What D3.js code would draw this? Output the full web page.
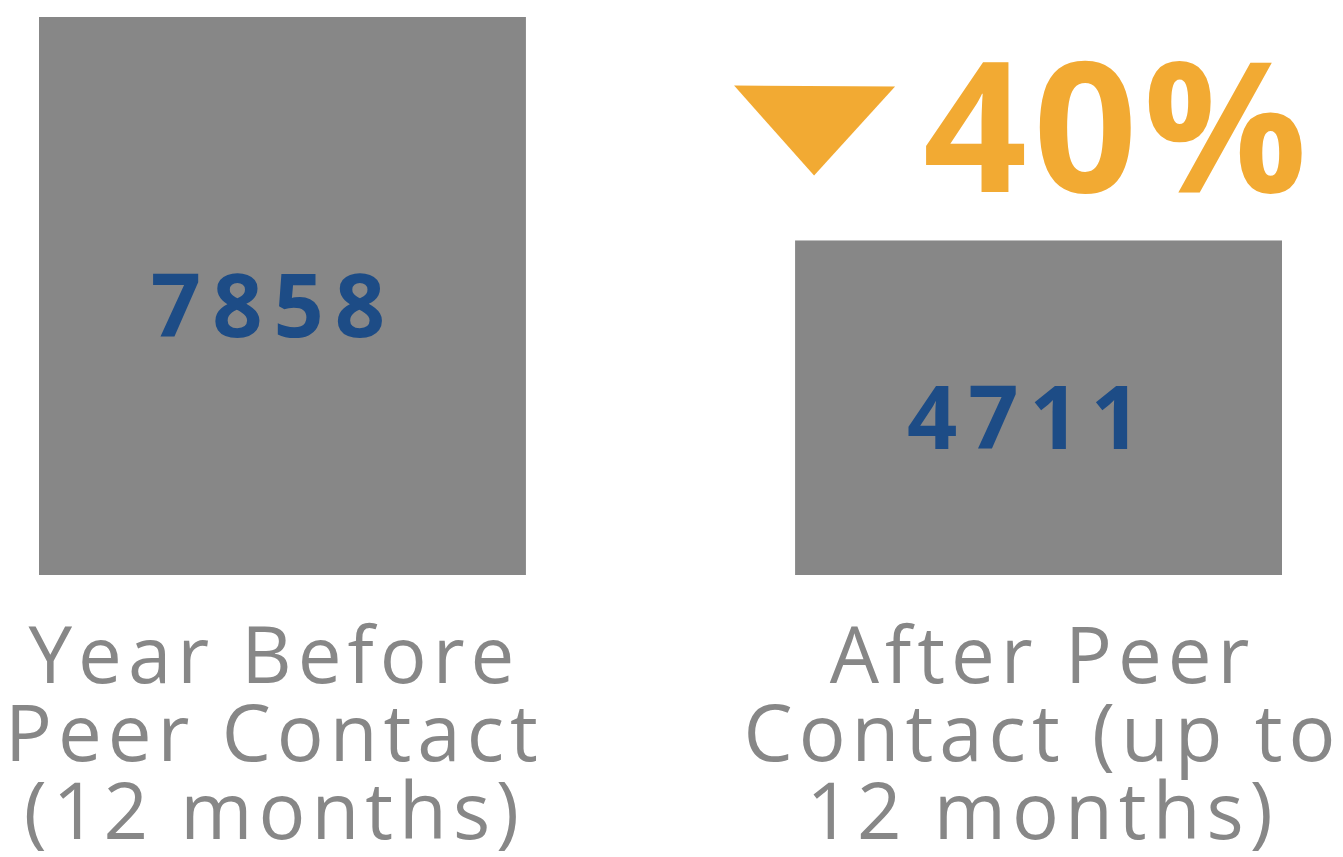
<!DOCTYPE html>
<html>
<head>
<meta charset="utf-8">
<script src="https://cdn.jsdelivr.net/npm/d3@7"></script>
<style>
  body { margin: 0; background: #fff; }
  text { font-family: "Open Sans", sans-serif; }
</style>
</head>
<body>
<div id="chart"></div>
<script>
// data
var categories = ["Year Before Peer Contact (12 months)", "After Peer Contact (up to 12 months)"];
var labelLines = [["Year Before", "Peer Contact", "(12 months)"], ["After Peer", "Contact (up to", "12 months)"]];
var values = [7858, 4711];

var W = 1343, H = 857;
var barColor = "#878787", valueColor = "#1d4c86", accent = "#f2aa33";

var svg = d3.select("#chart").append("svg")
  .attr("width", W)
  .attr("height", H);

var x = d3.scaleBand()
  .domain(categories)
  .range([39, 1282])
  .paddingInner(0.356)
  .paddingOuter(0);

var y = d3.scaleLinear()
  .domain([0, d3.max(values)])
  .range([575, 17]);

var data = categories.map(function(c, i) { return {cat: c, value: values[i], lines: labelLines[i], shift: i == 0 ? -11 : 1}; });

// bars
svg.selectAll(".bar")
  .data(data)
  .enter().append("rect")
  .attr("class", "bar")
  .attr("x", d => x(d.cat))
  .attr("y", d => y(d.value))
  .attr("width", x.bandwidth())
  .attr("height", d => y(0) - y(d.value))
  .attr("fill", barColor);

// values inside bars
svg.selectAll(".val")
  .data(data)
  .enter().append("text")
  .attr("class", "val")
  .attr("x", d => x(d.cat) + x.bandwidth() / 2 - 9)
  .attr("y", d => (y(d.value) + y(0)) / 2 + 41)
  .attr("text-anchor", "middle")
  .style("font-size", "88px")
  .style("font-weight", 700)
  .style("letter-spacing", "11px")
  .style("fill", valueColor)
  .text(d => d.value);

// category labels, three lines each
var labels = svg.selectAll(".lab")
  .data(data)
  .enter().append("text")
  .attr("class", "lab")
  .attr("text-anchor", "middle")
  .style("font-size", "78px")
  .style("letter-spacing", "6px")
  .style("fill", barColor);

labels.selectAll("tspan")
  .data(d => d.lines.map(l => ({l: l, cx: x(d.cat) + x.bandwidth() / 2 + d.shift})))
  .enter().append("tspan")
  .attr("x", d => d.cx + 3)
  .attr("y", (d, i) => 683 + i * 78)
  .text(d => d.l);

// change annotation above the second bar
var drop = Math.round((values[0] - values[1]) / values[0] * 100);
var b2 = x(categories[1]);
var top2 = y(values[1]);

svg.append("path")
  .attr("d", d3.line()([[b2 - 61, top2 - 155], [b2 + 100, top2 - 154], [b2 + 19, top2 - 65]]) + "Z")
  .attr("fill", accent);

svg.append("text")
  .attr("x", b2 + 128)
  .attr("y", top2 - 48)
  .style("font-size", "182px")
  .style("font-weight", 700)
  .style("letter-spacing", "6px")
  .style("fill", accent)
  .text(drop + "%");
</script>
</body>
</html>
